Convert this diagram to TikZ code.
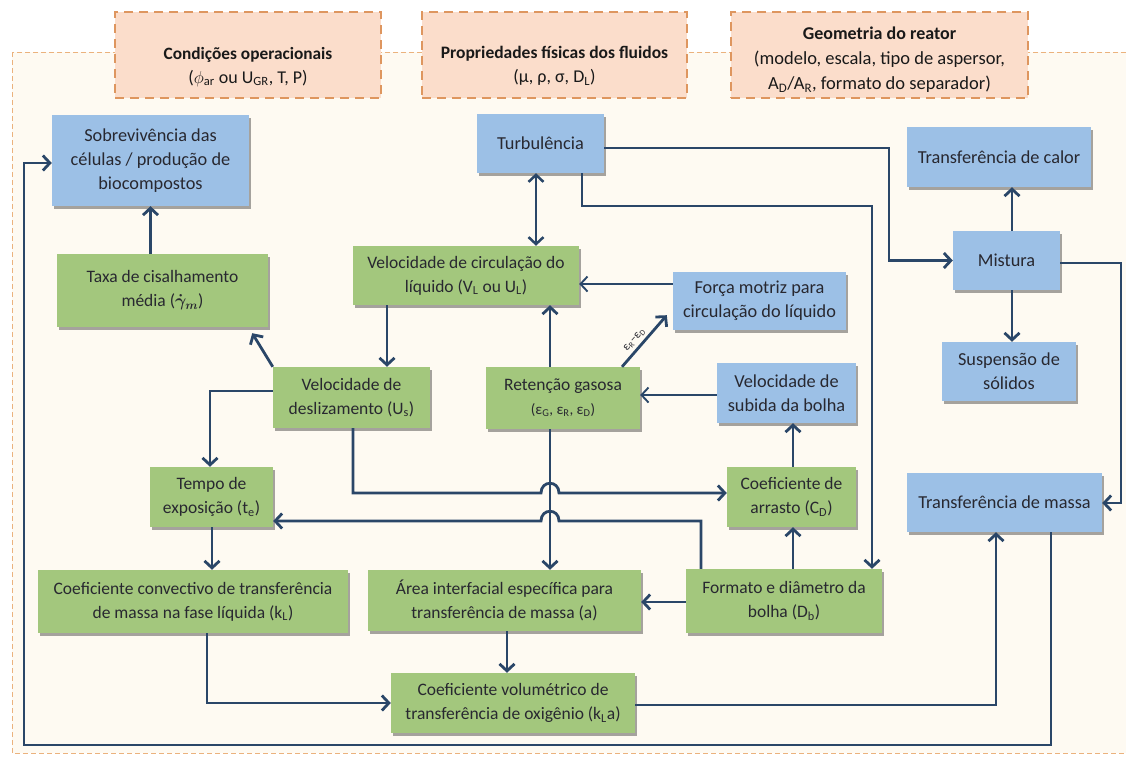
\documentclass[tikz,border=0pt]{standalone}
\usepackage{fontspec}
\setmainfont{Carlito}
\usetikzlibrary{arrows.meta,calc,shadows}
\definecolor{linecol}{RGB}{42,70,104}
\definecolor{boxblue}{RGB}{156,192,230}
\definecolor{boxgreen}{RGB}{163,199,125}
\definecolor{cream}{RGB}{254,250,242}
\definecolor{peach}{RGB}{251,221,203}
\definecolor{topdash}{RGB}{222,150,95}
\definecolor{outerdash}{RGB}{235,178,125}
\definecolor{txt}{RGB}{40,40,48}
\tikzset{
  sz/.style 2 args={minimum width=#1pt, minimum height=#2pt},
  box/.style={rectangle, inner sep=0pt, align=center, text=txt,
    drop shadow={shadow xshift=2pt, shadow yshift=-2.5pt, opacity=0.35, fill=black}},
  bluebox/.style={box, fill=boxblue, font=\fontsize{18.3}{24}\selectfont},
  greenbox/.style={box, fill=boxgreen, font=\fontsize{17.5}{24}\selectfont},
  topbox/.style={rectangle, draw=topdash, line width=2.5pt, dash pattern=on 9pt off 6pt, fill=peach},
  toptext/.style={align=center, inner sep=0pt, text=black!90},
  tip/.tip={Straight Barb[length=7pt,width=15pt]},
  link/.style={draw=linecol, line width=2.8pt, -tip},
  thinlink/.style={draw=linecol, line width=1.9pt, -tip},
  dlink/.style={draw=linecol, line width=2.5pt, tip-tip},
}
\begin{document}
\begin{tikzpicture}[x=1pt,y=-1pt]
\useasboundingbox (0,0) rectangle (1126,756);
\fill[white] (0,0) rectangle (1126,756);
\draw[draw=outerdash, line width=1pt, dash pattern=on 5pt off 3pt, fill=cream] (12,52) rectangle (1140,753);

% top boxes
\node[topbox, sz={266}{86}] (Cond) at (248,55) {};
\node[topbox, sz={265}{86}] (Prop) at (554.5,55) {};
\node[topbox, sz={297}{86}] (Geo) at (879.5,55) {};
\node[toptext, font=\fontsize{17.3}{24}\selectfont] (CondT) at (248,67)
  {\textbf{Condições operacionais}\\{\fontsize{18}{24}\selectfont($\phi$\textsubscript{ar} ou U\textsubscript{GR}, T, P)}};
\node[toptext, font=\fontsize{17.5}{24}\selectfont] (PropT) at (554.5,66)
  {\textbf{Propriedades físicas dos fluidos}\\{\fontsize{18}{24}\selectfont(μ, ρ, σ, D\textsubscript{L})}};
\node[toptext, font=\fontsize{18.5}{25}\selectfont] (GeoT) at (879.5,60)
  {{\fontsize{18}{25}\selectfont\textbf{Geometria do reator}}\\(modelo, escala, tipo de aspersor,\\A\textsubscript{D}/A\textsubscript{R}, formato do separador)};

% main boxes
\node[bluebox, sz={197}{91}] (Sob) at (150.5,160.5) {Sobrevivência das\\células / produção de\\biocompostos};
\node[greenbox, sz={211}{73}] (Taxa) at (162.5,290.5) {Taxa de cisalhamento\\média ({\boldmath$\dot{\gamma}_{m}$})};
\node[bluebox, sz={127}{59}] (Turb) at (540.5,143.5) {Turbulência};
\node[bluebox, sz={184}{60}] (Calor) at (999,157) {Transferência de calor};
\node[bluebox, sz={107}{59}] (Mist) at (1006.5,260.5) {Mistura};
\node[greenbox, sz={226}{59}] (Vcirc) at (466,275.5) {Velocidade de circulação do\\líquido (V\textsubscript{L} ou U\textsubscript{L})};
\node[bluebox, sz={173}{58}] (Forca) at (759.5,301) {Força motriz para\\circulação do líquido};
\node[greenbox, sz={157}{61}] (Vdesl) at (351.5,397.5) {Velocidade de\\deslizamento (U\textsubscript{s})};
\node[greenbox, sz={154}{62}] (Ret) at (563,398) {Retenção gasosa\\{\fontsize{15}{20}\selectfont(ε\textsubscript{G}, ε\textsubscript{R}, ε\textsubscript{D})}};
\node[bluebox, sz={139}{60}] (Vsub) at (786.5,393) {Velocidade de\\subida da bolha};
\node[bluebox, sz={134}{59}] (Susp) at (1009,371.5) {Suspensão de\\sólidos};
\node[greenbox, sz={123}{60}] (Tempo) at (211.5,497) {Tempo de\\exposição (t\textsubscript{e})};
\node[greenbox, sz={129}{60}] (Arr) at (791.5,497) {Coeficiente de\\arrasto (C\textsubscript{D})};
\node[bluebox, sz={195}{59}] (Massa) at (1004.5,502.5) {Transferência de massa};
\node[greenbox, sz={310}{63}] (Conv) at (193,601.5) {Coeficiente convectivo de transferência\\de massa na fase líquida (k\textsubscript{L})};
\node[greenbox, sz={273}{61}] (Area) at (504.5,600.5) {Área interfacial específica para\\transferência de massa (a)};
\node[greenbox, sz={196}{64}] (Form) at (784,601) {Formato e diâmetro da\\bolha (D\textsubscript{b})};
\node[greenbox, sz={244}{60}] (kLa) at (513,703) {Coeficiente volumétrico de\\transferência de oxigênio (k\textsubscript{L}a)};

% connectors
\draw[link] (Taxa.north -| Sob.south) -- (Sob.south);
\draw[dlink] (Turb.south -| 536,0) -- (Vcirc.north -| 536,0);
\draw[link] (Turb.east |- 0,148) -| (889,0 |- Mist.west) -- (Mist.west);
\draw[link] (Turb.south -| 582,0) |- (872,206) -- (872,0 |- Form.north);
\draw[link] (Mist.north -| 1012,0) -- (Calor.south -| 1012,0);
\draw[link] (Mist.south -| 1012,0) -- (Susp.north -| 1012,0);
\draw[link] (Mist.east |- 0,263) -| (1121,503) -- (Massa.east |- 0,503);
\draw[thinlink] (Forca.west |- 0,284) -- (Vcirc.east |- 0,284);
\draw[link] (Ret.north -| 550,0) -- (Vcirc.south -| 550,0);
\coordinate (fm) at ($(Forca.south west)+(-6,-15)$);
\draw[link] (Ret.north -| 622,0) -- (fm)
  node[pos=0.42, sloped, above, inner sep=3pt, font=\fontsize{12}{12}\selectfont, text=txt] (lbl) {ε\textsubscript{R}–ε\textsubscript{D}};
\draw[link] (Vcirc.south -| 387,0) -- (Vdesl.north -| 387,0);
\coordinate (tx) at ($(Taxa.south east)+(-16,6)$);
\draw[link] (Vdesl.north west) -- (tx);
\draw[link] (Vdesl.west |- 0,391) -| (210,0 |- Tempo.north);
\draw[link] (Vdesl.south -| 353,0) |- (541,493) .. controls (541,480) and (559,480) .. (559,493) -- (Arr.west |- 0,493);
\draw[link] (Form.north -| 701,0) |- (559,521) .. controls (559,508) and (541,508) .. (541,521) -- (Tempo.east |- 0,521);
\draw[link] (Ret.south -| 550,0) -- (Area.north -| 550,0);
\draw[thinlink] (Vsub.west |- 0,395) -- (Ret.east |- 0,395);
\draw[link] (Arr.north -| 793,0) -- (Vsub.south -| 793,0);
\draw[link] (Form.north -| 793,0) -- (Arr.south -| 793,0);
\draw[link] (Form.west |- 0,602) -- (Area.east |- 0,602);
\draw[link] (Tempo.south -| 212,0) -- (Conv.north -| 212,0);
\draw[link] (Conv.south -| 207,0) |- (kLa.west);
\draw[link] (Area.south -| 507,0) -- (kLa.north -| 507,0);
\draw[link] (kLa.east |- 0,705) -| (Massa.south -| 996,0);
\draw[link] (Massa.south -| 1051,0) |- (24,745) |- (Sob.west |- 0,163);
\end{tikzpicture}
\end{document}
